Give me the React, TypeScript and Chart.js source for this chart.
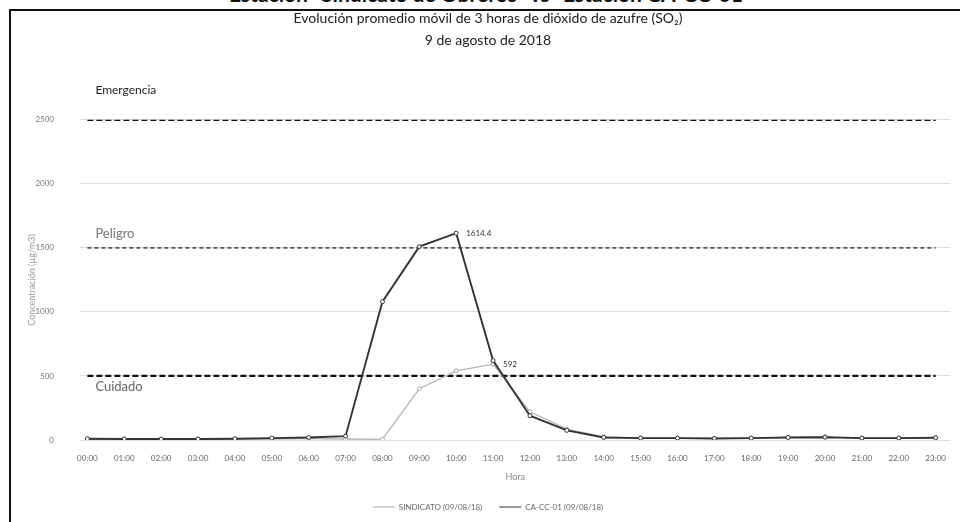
import React, { useEffect, useRef } from "react";
import { Chart, registerables } from "chart.js";

Chart.register(...registerables);

const hours = [
  "00:00", "01:00", "02:00", "03:00", "04:00", "05:00", "06:00", "07:00",
  "08:00", "09:00", "10:00", "11:00", "12:00", "13:00", "14:00", "15:00",
  "16:00", "17:00", "18:00", "19:00", "20:00", "21:00", "22:00", "23:00",
];
const sindicato = [5, 5, 5, 5, 6, 8, 10, 8, 5, 400, 540, 592, 220, 85, 25, 15, 15, 12, 15, 20, 25, 15, 15, 18];
const caCc01 = [10, 8, 8, 8, 10, 15, 20, 30, 1080, 1510, 1614.4, 620, 190, 75, 20, 15, 15, 12, 15, 20, 22, 15, 15, 18];
const thresholdNames = ["Emergencia", "Peligro", "Cuidado"];
const thresholdValues = [2500, 1500, 500];
const seriesNames = ["SINDICATO (09/08/18)", "CA-CC-01 (09/08/18)"];
const titleLines = [
  "Evolución promedio móvil de 3 horas de dióxido de azufre (SO₂)",
  "9 de agosto de 2018",
];
const heading = "Estación \u201CSindicato de Obreros\u201D vs \u201CEstación CA-CC-01\u201D";

const FONT = "Lato, 'Open Sans', sans-serif";

const thresholdStyles = [
  { color: "#111", width: 2.6, dash: [6, 3], labelColor: "#222", labelSize: 12, dy: -30 },
  { color: "#555", width: 1.6, dash: [4, 3], labelColor: "#777", labelSize: 13, dy: -14 },
  { color: "#111", width: 2.2, dash: [6, 3], labelColor: "#666", labelSize: 13, dy: 11 },
];

const annotPlugin = {
  id: "annot",
  afterDatasetsDraw(chart: any) {
    const { ctx, scales } = chart;
    const x = scales.x;
    const y = scales.y;
    ctx.save();
    ctx.textBaseline = "middle";
    ctx.textAlign = "left";
    thresholdNames.forEach((name, i) => {
      const st = thresholdStyles[i];
      ctx.fillStyle = st.labelColor;
      ctx.font = `${st.labelSize}px ${FONT}`;
      ctx.fillText(name, x.getPixelForValue(0) + 8, y.getPixelForValue(thresholdValues[i]) + st.dy);
    });
    ctx.font = `8px ${FONT}`;
    ctx.fillStyle = "#333";
    [caCc01, sindicato].forEach((arr) => {
      let mi = 0;
      arr.forEach((v, i) => {
        if (v > arr[mi]) mi = i;
      });
      ctx.fillText(String(arr[mi]), x.getPixelForValue(mi) + 10, y.getPixelForValue(arr[mi]));
    });
    ctx.restore();
  },
};

export default function App() {
  const ref = useRef<HTMLCanvasElement | null>(null);
  useEffect(() => {
    if (!ref.current) return;
    const toPts = (arr: number[]) => arr.map((v, i) => ({ x: i, y: v }));
    const thresholdSets = thresholdValues.map((v, i) => ({
      label: thresholdNames[i],
      data: hours.map((_, k) => ({ x: k, y: v })),
      borderColor: thresholdStyles[i].color,
      backgroundColor: thresholdStyles[i].color,
      borderWidth: thresholdStyles[i].width,
      borderDash: thresholdStyles[i].dash,
      pointRadius: 0,
      order: 3,
    }));
    const chart = new Chart(ref.current, {
      type: "line",
      data: {
        datasets: [
          {
            label: seriesNames[0],
            data: toPts(sindicato),
            borderColor: "#b4b4b4",
            backgroundColor: "#b4b4b4",
            borderWidth: 1.3,
            pointRadius: 2,
            pointBackgroundColor: "#fff",
            pointBorderColor: "#a8a8a8",
            pointBorderWidth: 1,
            order: 2,
          },
          {
            label: seriesNames[1],
            data: toPts(caCc01),
            borderColor: "#333",
            backgroundColor: "#333",
            borderWidth: 1.9,
            pointRadius: 2,
            pointBackgroundColor: "#fff",
            pointBorderColor: "#333",
            pointBorderWidth: 1,
            order: 1,
          },
          ...thresholdSets,
        ] as any,
      },
      options: {
        animation: false,
        responsive: false,
        maintainAspectRatio: false,
        layout: { padding: { left: 18, right: 2, top: 0, bottom: 1 } },
        plugins: {
          title: {
            display: true,
            text: titleLines,
            color: "#222",
            font: { family: FONT, size: 14, weight: "normal", lineHeight: 1.6 },
            padding: { top: 7, bottom: 68 },
          },
          legend: {
            position: "bottom",
            labels: {
              filter: (item: any) => item.datasetIndex < 2,
              sort: (a: any, b: any) => a.datasetIndex - b.datasetIndex,
              color: "#666",
              font: { family: FONT, size: 8 },
              usePointStyle: true,
              pointStyle: "line",
              pointStyleWidth: 22,
              padding: 17,
            },
          },
          tooltip: { enabled: false },
        },
        scales: {
          x: {
            type: "linear",
            min: -0.2,
            max: 23.4,
            grid: { display: false, drawTicks: false },
            border: { display: false },
            ticks: {
              stepSize: 1,
              includeBounds: false,
              autoSkip: false,
              maxRotation: 0,
              padding: 14,
              color: "#666",
              font: { family: FONT, size: 8 },
              callback: (v: any) => (Number.isInteger(v) && hours[v] !== undefined ? hours[v] : ""),
            },
            title: {
              display: true,
              text: "Hora",
              color: "#888",
              font: { family: FONT, size: 9 },
              padding: { top: 8, bottom: 3.6 },
            },
            afterFit: (scale: any) => {
              scale.height = 46;
            },
          },
          y: {
            min: 0,
            max: 2500,
            grid: { color: "#dcdcdc", drawTicks: false, lineWidth: 1 },
            border: { display: false },
            ticks: {
              stepSize: 500,
              padding: 26,
              color: "#777",
              font: { family: FONT, size: 8 },
              callback: (v: any) => String(v),
            },
            title: {
              display: true,
              text: "Concentración (µg/m3)",
              color: "#999",
              font: { family: FONT, size: 9 },
              padding: { top: 8.6, bottom: 0 },
            },
            afterFit: (scale: any) => {
              scale.width = 62;
            },
          },
        },
      } as any,
      plugins: [annotPlugin],
    });
    return () => chart.destroy();
  }, []);

  return (
    <div
      style={{
        position: "absolute",
        left: 0,
        top: 0,
        width: 960,
        height: 522,
        overflow: "hidden",
        background: "#fff",
      }}
    >
      <div
        style={{
          position: "absolute",
          left: 0,
          width: 960,
          top: -19,
          textAlign: "center",
          fontFamily: FONT,
          fontWeight: "bold",
          fontSize: 21,
          color: "#111",
          whiteSpace: "nowrap",
          paddingLeft: 20,
          boxSizing: "border-box",
        }}
      >
        {heading}
      </div>
      <div
        style={{
          position: "absolute",
          left: 9,
          top: 9,
          width: 960,
          height: 530,
          borderLeft: "2px solid #111",
          borderTop: "2px solid #111",
        }}
      />
      <canvas
        ref={ref}
        width={960}
        height={522}
        style={{ position: "absolute", left: 0, top: 0, width: 960, height: 522 }}
      />
    </div>
  );
}
